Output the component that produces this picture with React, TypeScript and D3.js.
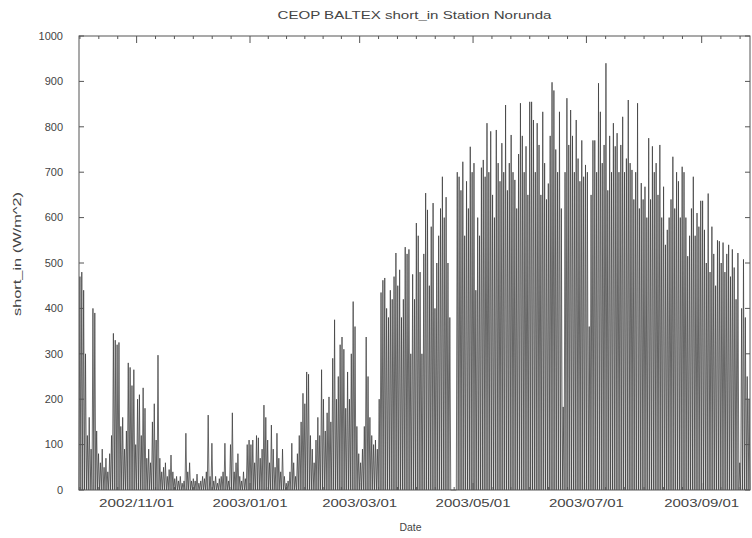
import React from 'react'
import * as d3 from 'd3'

// daily peak of incoming shortwave (W/m^2), one array per month
const oct02 = [470, 480, 440, 300, 120, 160, 90, 400, 390, 130, 80, 60, 90, 50, 70, 40, 80, 120, 345, 330, 320, 325, 140, 160, 90, 130, 280, 270, 230, 265, 100]
const nov02 = [200, 210, 120, 225, 180, 70, 90, 60, 150, 190, 110, 297, 70, 40, 50, 60, 30, 45, 77, 40, 25, 30, 20, 30, 15, 20, 125, 40, 60, 20]
const dec02 = [25, 20, 35, 15, 20, 30, 25, 40, 165, 30, 103, 20, 30, 15, 25, 30, 40, 103, 30, 20, 100, 170, 40, 60, 80, 30, 20, 40, 25, 100, 110]
const jan03 = [100, 110, 60, 120, 115, 70, 90, 187, 160, 110, 60, 143, 90, 50, 125, 70, 40, 90, 30, 15, 20, 40, 103, 60, 30, 80, 120, 150, 213, 190, 260]
const feb03 = [255, 120, 90, 60, 110, 160, 120, 265, 200, 130, 170, 205, 150, 290, 375, 200, 250, 320, 337, 310, 180, 260, 200, 300, 415, 360, 140, 80]
const mar03 = [60, 90, 140, 337, 250, 160, 120, 100, 110, 90, 200, 435, 462, 467, 400, 380, 440, 420, 470, 522, 450, 485, 380, 420, 535, 520, 530, 300, 475, 420, 588]
const apr03 = [560, 480, 300, 520, 654, 617, 450, 580, 632, 400, 500, 560, 620, 690, 600, 645, 500, 380, 0, 0, 0, 700, 690, 660, 723, 560, 680, 620, 756, 700]
const may03 = [720, 440, 600, 560, 710, 727, 690, 808, 700, 790, 650, 600, 793, 720, 680, 764, 700, 848, 660, 720, 782, 700, 683, 620, 740, 852, 780, 700, 757, 650, 855]
const jun03 = [855, 815, 700, 808, 760, 650, 833, 720, 640, 675, 780, 898, 880, 750, 700, 833, 620, 183, 700, 863, 760, 837, 780, 700, 815, 730, 680, 770, 690, 716]
const jul03 = [700, 360, 650, 770, 770, 700, 896, 833, 720, 760, 940, 660, 780, 700, 808, 757, 786, 700, 760, 822, 700, 730, 859, 720, 705, 640, 700, 852, 620, 676, 640]
const aug03 = [668, 600, 775, 640, 757, 700, 720, 650, 760, 600, 668, 540, 573, 600, 640, 734, 620, 700, 680, 600, 712, 700, 600, 515, 560, 620, 690, 560, 610, 580, 637]
const sep03 = [637, 573, 500, 653, 480, 580, 520, 450, 550, 548, 500, 545, 480, 520, 540, 470, 530, 490, 420, 522, 60, 400, 508, 380, 250, 200]

const months = [
  { start: '2002-10-01', values: oct02 },
  { start: '2002-11-01', values: nov02 },
  { start: '2002-12-01', values: dec02 },
  { start: '2003-01-01', values: jan03 },
  { start: '2003-02-01', values: feb03 },
  { start: '2003-03-01', values: mar03 },
  { start: '2003-04-01', values: apr03 },
  { start: '2003-05-01', values: may03 },
  { start: '2003-06-01', values: jun03 },
  { start: '2003-07-01', values: jul03 },
  { start: '2003-08-01', values: aug03 },
  { start: '2003-09-01', values: sep03 },
]

const yTicks = [0, 100, 200, 300, 400, 500, 600, 700, 800, 900, 1000]

const W = 752
const H = 538
const margin = { top: 36, right: 2, bottom: 48, left: 79 }
const font = "'Liberation Sans', Arial, sans-serif"
const textColor = '#444'
const axisColor = '#555'

const parse = d3.utcParse('%Y-%m-%d')
const fmt = d3.utcFormat('%Y/%m/%d')

export default function App () {
  const innerW = W - margin.left - margin.right
  const innerH = H - margin.top - margin.bottom

  const x = d3.scaleUtc()
    .domain([parse('2002-10-01'), parse('2003-09-27')])
    .range([0, innerW])
  const y = d3.scaleLinear().domain([0, 1000]).range([innerH, 0])

  // night 0 -> noon peak -> night 0, one cycle per day
  const pts = []
  months.forEach(m => {
    const s = parse(m.start)
    m.values.forEach((v, i) => {
      const day = d3.utcDay.offset(s, i)
      pts.push({ t: day, v: 0 })
      pts.push({ t: d3.utcHour.offset(day, 12), v })
    })
  })
  const last = months[months.length - 1]
  pts.push({ t: d3.utcDay.offset(parse(last.start), last.values.length), v: 0 })

  const line = d3.line().x(d => x(d.t)).y(d => y(d.v))

  // gnuplot-like: labelled tick every 2 months, 5 minor ticks in between
  const majors = x.ticks(d3.utcMonth.every(2))
  const minors = []
  for (let i = 0; i < majors.length; i++) {
    const a = x(majors[i])
    const b = i + 1 < majors.length ? x(majors[i + 1]) : a + (a - x(majors[i - 1]))
    const step = (b - a) / 6
    for (let k = 1; k < 6; k++) minors.push(a + k * step)
    if (i === 0) for (let k = 1; a - k * step > 0; k++) minors.push(a - k * step)
  }
  const minorsIn = minors.filter(p => p > 0 && p < innerW)

  return (
    <svg width={W} height={H} style={{ position: 'absolute', left: 0, top: 0, background: '#fff' }}>
      <text x={margin.left + innerW / 2} y={19} textAnchor='middle' fontFamily={font} fontSize={10.5}
        fill={textColor} textLength={274} lengthAdjust='spacingAndGlyphs'>CEOP BALTEX short_in Station Norunda</text>
      <g transform={`translate(${margin.left},${margin.top})`}>
        <path d={line(pts)} fill='none' stroke='#3c3c3c' strokeWidth={0.75} />
        <rect x={0} y={0} width={innerW} height={innerH} fill='none' stroke={axisColor} strokeWidth={1} />
        {yTicks.map(t => (
          <g key={t}>
            <line x1={0} x2={5} y1={y(t)} y2={y(t)} stroke={axisColor} />
            <line x1={innerW - 5} x2={innerW} y1={y(t)} y2={y(t)} stroke={axisColor} />
            <text x={-16} y={y(t)} dy='0.35em' textAnchor='end' fontFamily={font} fontSize={11} fill={textColor}>{t}</text>
          </g>
        ))}
        {majors.map(d => (
          <g key={+d}>
            <line x1={x(d)} x2={x(d)} y1={0} y2={7} stroke={axisColor} />
            <line x1={x(d)} x2={x(d)} y1={innerH - 7} y2={innerH} stroke={axisColor} />
            <text x={x(d)} y={innerH + 17} textAnchor='middle' fontFamily={font} fontSize={11} fill={textColor}
              textLength={75} lengthAdjust='spacingAndGlyphs'>{fmt(d)}</text>
          </g>
        ))}
        {minorsIn.map((p, i) => (
          <g key={i}>
            <line x1={p} x2={p} y1={0} y2={3} stroke={axisColor} />
            <line x1={p} x2={p} y1={innerH - 3} y2={innerH} stroke={axisColor} />
          </g>
        ))}
        <text x={innerW / 2 - 4} y={innerH + 41} textAnchor='middle' fontFamily={font} fontSize={11} fill={textColor}
          textLength={22} lengthAdjust='spacingAndGlyphs'>Date</text>
        <text transform={`translate(${-58},${innerH / 2 - 9}) rotate(-90)`} textAnchor='middle' fontFamily={font}
          fontSize={10} fill={textColor} textLength={124} lengthAdjust='spacingAndGlyphs'>short_in (W/m^2)</text>
      </g>
    </svg>
  )
}
